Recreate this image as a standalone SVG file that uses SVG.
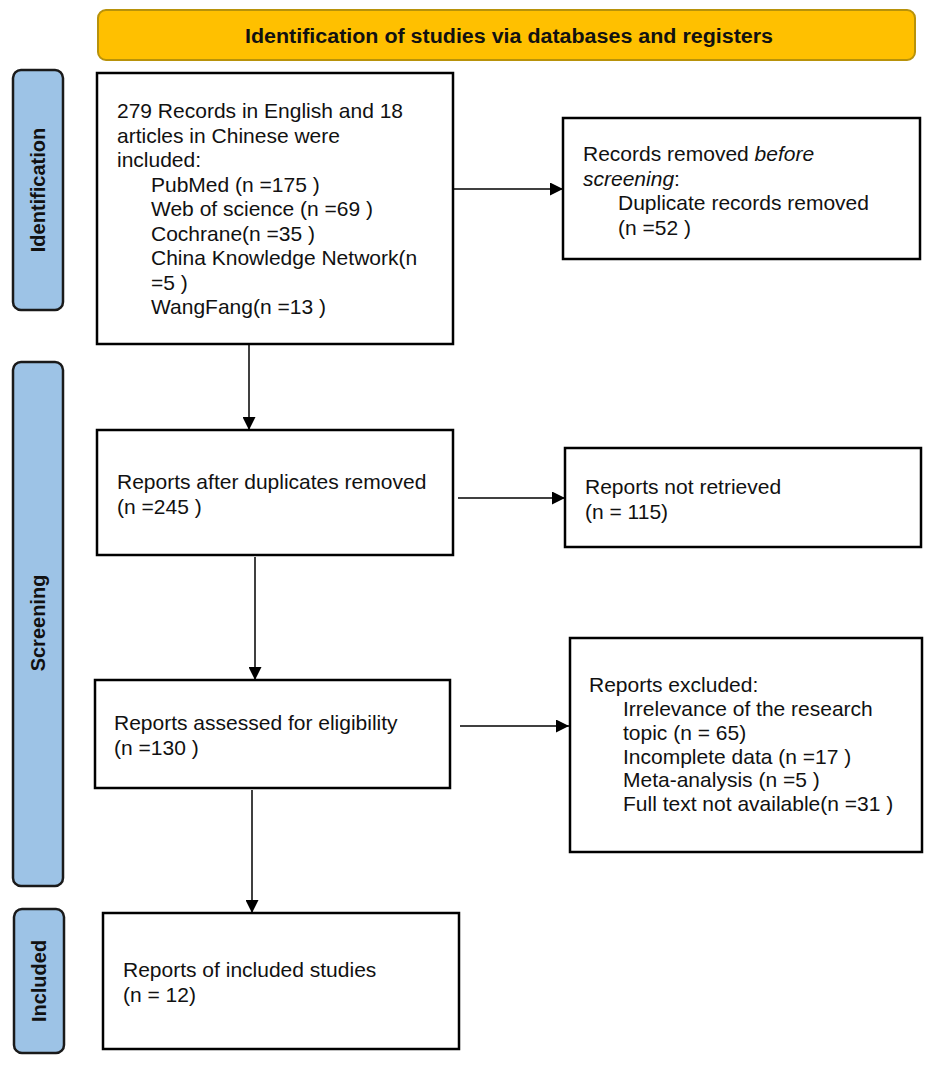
<svg xmlns="http://www.w3.org/2000/svg" width="935" height="1065" viewBox="0 0 935 1065">
<style>
.box{fill:#fff;stroke:#000;stroke-width:2.5}
.side{fill:#9DC3E6;stroke:#1a1a1a;stroke-width:2.5}
.t{font-family:"Liberation Sans",Arial,sans-serif;font-size:21px;fill:#111}
.st{font-family:"Liberation Sans",Arial,sans-serif;font-size:20px;font-weight:bold;fill:#111;text-anchor:middle}
.con{stroke:#000;stroke-width:1.5;fill:none;marker-end:url(#ah)}
</style>
<defs>
<marker id="ah" markerUnits="userSpaceOnUse" markerWidth="13" markerHeight="13" refX="13" refY="6.5" orient="auto">
<path d="M0,0 L13,6.5 L0,13 z" fill="#000"/>
</marker>
</defs>
<rect width="935" height="1065" fill="#fff"/>
<g id="banner">
<rect x="98" y="10" width="817" height="50" rx="8" fill="#FFC000" stroke="#B8920A" stroke-width="2"/>
<text x="509" y="43" font-family="'Liberation Sans',Arial,sans-serif" font-size="20" font-weight="bold" text-anchor="middle" fill="#111" textLength="528" lengthAdjust="spacingAndGlyphs">Identification of studies via databases and registers</text>
</g>
<g id="side-identification">
<rect class="side" x="13" y="70" width="50" height="240" rx="8"/>
<text class="st" transform="translate(45,190) rotate(-90)">Identification</text>
</g>
<g id="side-screening">
<rect class="side" x="13" y="362" width="50" height="524" rx="8"/>
<text class="st" transform="translate(45,623) rotate(-90)">Screening</text>
</g>
<g id="side-included">
<rect class="side" x="14" y="909" width="50" height="144" rx="8"/>
<text class="st" transform="translate(46,981) rotate(-90)">Included</text>
</g>
<g id="records">
<rect class="box" x="97" y="73" width="356" height="271"/>
<text class="t">
<tspan x="117" y="118">279 Records in English and 18</tspan>
<tspan x="117" y="142.5">articles in Chinese were</tspan>
<tspan x="117" y="167">included:</tspan>
<tspan x="151" y="191.5">PubMed (n =175 )</tspan>
<tspan x="151" y="216">Web of science (n =69 )</tspan>
<tspan x="151" y="240.5">Cochrane(n =35 )</tspan>
<tspan x="151" y="265">China Knowledge Network(n</tspan>
<tspan x="151" y="289.5">=5 )</tspan>
<tspan x="151" y="314">WangFang(n =13 )</tspan>
</text>
</g>
<g id="removed">
<rect class="box" x="563" y="118" width="357" height="141"/>
<text class="t">
<tspan x="583" y="161">Records removed <tspan font-style="italic">before</tspan></tspan>
<tspan x="583" y="185.5" font-style="italic">screening</tspan><tspan>:</tspan>
<tspan x="618" y="210">Duplicate records removed</tspan>
<tspan x="618" y="234.5">(n =52 )</tspan>
</text>
</g>
<g id="after-duplicates">
<rect class="box" x="97" y="430" width="356" height="125"/>
<text class="t">
<tspan x="117" y="489">Reports after duplicates removed</tspan>
<tspan x="117" y="514">(n =245 )</tspan>
</text>
</g>
<g id="not-retrieved">
<rect class="box" x="565" y="448" width="356" height="99"/>
<text class="t">
<tspan x="585" y="494">Reports not retrieved</tspan>
<tspan x="585" y="519">(n = 115)</tspan>
</text>
</g>
<g id="assessed">
<rect class="box" x="95" y="680" width="355" height="108"/>
<text class="t">
<tspan x="114" y="730">Reports assessed for eligibility</tspan>
<tspan x="114" y="755">(n =130 )</tspan>
</text>
</g>
<g id="excluded">
<rect class="box" x="570" y="638" width="352" height="214"/>
<text class="t">
<tspan x="589" y="692">Reports excluded:</tspan>
<tspan x="623" y="716">Irrelevance of the research</tspan>
<tspan x="623" y="740">topic (n = 65)</tspan>
<tspan x="623" y="763.5">Incomplete data (n =17 )</tspan>
<tspan x="623" y="787">Meta-analysis (n =5 )</tspan>
<tspan x="623" y="810.5">Full text not available(n =31 )</tspan>
</text>
</g>
<g id="included">
<rect class="box" x="103" y="913" width="356" height="136"/>
<text class="t">
<tspan x="123" y="977">Reports of included studies</tspan>
<tspan x="123" y="1002">(n = 12)</tspan>
</text>
</g>
<g id="connectors">
<line class="con" x1="454" y1="189" x2="563" y2="189"/>
<line class="con" x1="249" y1="345" x2="249" y2="430"/>
<line class="con" x1="458" y1="498" x2="565" y2="498"/>
<line class="con" x1="255" y1="557" x2="255" y2="680"/>
<line class="con" x1="460" y1="726" x2="569" y2="726"/>
<line class="con" x1="252" y1="790" x2="252" y2="913"/>
</g>
</svg>
